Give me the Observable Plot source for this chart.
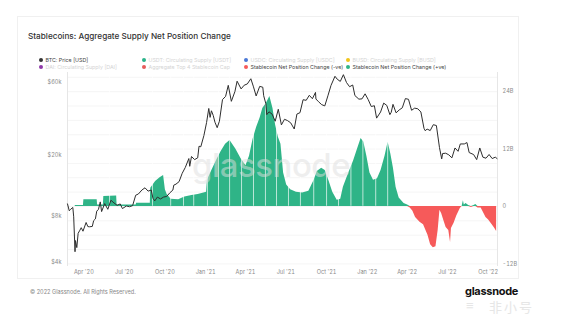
<!DOCTYPE html>
<html>
<head>
<meta charset="utf-8">
<script src="https://cdn.jsdelivr.net/npm/d3@7"></script>
<script src="https://cdn.jsdelivr.net/npm/@observablehq/plot@0.6"></script>
<style>
  html, body { margin: 0; padding: 0; background: #fff; }
  body { width: 562px; height: 323px; position: relative; overflow: hidden; font-family: Inter, "Noto Sans", sans-serif; }
  .abs { position: absolute; }
  #card { left: 17px; top: 16px; width: 502px; height: 263px; border: 1px solid #f0f0f0; box-sizing: border-box; }
  #title { left: 28px; top: 31px; font-size: 8.2px; font-weight: 500; color: #333; white-space: nowrap; }
  .leg { font-size: 5.3px; white-space: nowrap; display: flex; align-items: center; }
  .leg i { display: inline-block; width: 4px; height: 4px; border-radius: 50%; margin-right: 2.5px; }
  #foot { left: 30px; top: 289px; font-size: 5.6px; color: #888; white-space: nowrap; }
  #logo { left: 465px; top: 284px; font-size: 11px; font-weight: 700; color: #111; letter-spacing: -0.3px; }
  #wm2 { left: 489px; top: 297px; font-size: 13px; color: #e6e6e6; font-family: "Noto Sans CJK SC"; letter-spacing: 2px; }
  #wm2b { left: 466px; top: 297px; font-size: 13px; color: #e6e6e6; }
  #wm { left: 192px; top: 145px; font-size: 33px; font-weight: 500; color: rgba(222,222,222,0.5); letter-spacing: -0.5px; pointer-events: none; }
  svg.layer { position: absolute; left: 0; top: 0; }
</style>
</head>
<body>
<div id="card" class="abs"></div>
<div id="title" class="abs">Stablecoins: Aggregate Supply Net Position Change</div>
<div id="legend"></div>
<div id="charts"></div>
<div id="wm" class="abs">glassnode</div>
<div id="foot" class="abs">© 2022 Glassnode. All Rights Reserved.</div>
<div id="logo" class="abs">glassnode</div>
<div id="wm2b" class="abs">≡</div>
<div id="wm2" class="abs">非小号</div>
<script>
// ---------- DATA ----------
const priceDates = ["2020-02-24","2020-02-28","2020-03-02","2020-03-07","2020-03-09","2020-03-12","2020-03-13","2020-03-16","2020-03-19","2020-03-23","2020-03-26","2020-03-30","2020-04-06","2020-04-10","2020-04-14","2020-04-20","2020-04-23","2020-04-27","2020-04-30","2020-05-04","2020-05-08","2020-05-11","2020-05-18","2020-05-25","2020-06-01","2020-06-08","2020-06-15","2020-06-22","2020-06-27","2020-07-06","2020-07-13","2020-07-20","2020-07-27","2020-08-02","2020-08-10","2020-08-17","2020-08-24","2020-08-31","2020-09-04","2020-09-08","2020-09-14","2020-09-21","2020-09-28","2020-10-05","2020-10-12","2020-10-19","2020-10-21","2020-10-26","2020-11-02","2020-11-09","2020-11-16","2020-11-24","2020-11-26","2020-11-30","2020-12-07","2020-12-14","2020-12-17","2020-12-21","2020-12-28","2021-01-03","2021-01-08","2021-01-11","2021-01-14","2021-01-18","2021-01-22","2021-01-27","2021-02-01","2021-02-08","2021-02-15","2021-02-21","2021-02-28","2021-03-08","2021-03-13","2021-03-22","2021-03-29","2021-04-05","2021-04-13","2021-04-19","2021-04-25","2021-05-03","2021-05-10","2021-05-12","2021-05-17","2021-05-19","2021-05-24","2021-05-31","2021-06-07","2021-06-14","2021-06-21","2021-06-28","2021-07-05","2021-07-12","2021-07-20","2021-07-26","2021-08-02","2021-08-09","2021-08-16","2021-08-23","2021-08-30","2021-09-06","2021-09-07","2021-09-13","2021-09-20","2021-09-27","2021-10-04","2021-10-11","2021-10-20","2021-10-25","2021-11-01","2021-11-08","2021-11-15","2021-11-22","2021-11-29","2021-12-04","2021-12-13","2021-12-20","2021-12-27","2022-01-03","2022-01-10","2022-01-17","2022-01-22","2022-01-31","2022-02-07","2022-02-14","2022-02-21","2022-02-24","2022-02-28","2022-03-07","2022-03-14","2022-03-21","2022-03-28","2022-04-04","2022-04-11","2022-04-18","2022-04-25","2022-05-02","2022-05-09","2022-05-12","2022-05-16","2022-05-23","2022-05-30","2022-06-06","2022-06-13","2022-06-18","2022-06-20","2022-06-27","2022-07-04","2022-07-11","2022-07-18","2022-07-25","2022-07-30","2022-08-08","2022-08-14","2022-08-19","2022-08-29","2022-09-05","2022-09-12","2022-09-19","2022-09-26","2022-10-03","2022-10-10","2022-10-17","2022-10-21"];
const priceValues = [9650,8700,8900,9150,7950,4700,5560,5000,6200,6500,6750,6400,7300,6860,6840,6880,7500,7700,8650,8900,9950,8600,9700,8900,10200,9800,9450,9650,9000,9350,9250,9400,11000,11200,11900,12300,11700,11900,10500,10100,10700,10400,10700,10800,11400,11900,12800,13000,13500,15300,16700,19100,17000,19700,18800,19300,23000,22800,27000,32800,40600,35500,39200,36600,33000,30400,33500,46400,48700,57500,45200,52300,61200,54500,57600,58700,63500,56200,49000,56600,55900,49200,43500,37000,38600,37300,33500,40100,31700,34500,33800,32700,29800,37300,38100,46300,45900,49500,47000,51700,46800,44900,43000,42200,49100,57400,65900,63100,61000,67500,60000,56300,57800,49300,46700,46900,50600,46400,41800,42300,35100,38500,44000,42500,37000,38300,43200,38000,39700,41000,47100,46600,39500,40800,40400,38500,30100,29000,29800,29100,31800,31400,22500,19000,20600,20700,20200,19300,22400,21300,23800,23800,24300,20900,20300,18800,22400,19500,19200,20300,19100,19500,19100];

// Stablecoin net position change, billions USD
const netDates = ["2020-03-12","2020-03-13","2020-03-31","2020-04-01","2020-05-01","2020-05-02","2020-05-15","2020-05-16","2020-06-14","2020-06-15","2020-07-28","2020-07-29","2020-08-29","2020-08-30","2020-09-10","2020-09-20","2020-09-28","2020-10-02","2020-10-06","2020-10-15","2020-11-01","2020-11-15","2020-12-01","2020-12-15","2020-12-28","2021-01-03","2021-01-05","2021-01-15","2021-01-25","2021-02-05","2021-02-15","2021-02-25","2021-03-10","2021-03-22","2021-04-02","2021-04-10","2021-04-18","2021-04-26","2021-05-04","2021-05-10","2021-05-18","2021-05-26","2021-06-02","2021-06-08","2021-06-14","2021-06-20","2021-06-26","2021-07-03","2021-07-12","2021-07-25","2021-08-08","2021-08-22","2021-09-03","2021-09-10","2021-09-20","2021-09-28","2021-10-06","2021-10-15","2021-10-25","2021-11-02","2021-11-08","2021-11-18","2021-12-01","2021-12-10","2021-12-18","2021-12-24","2021-12-31","2022-01-07","2022-01-15","2022-01-24","2022-02-01","2022-02-10","2022-02-17","2022-02-23","2022-03-01","2022-03-07","2022-03-14","2022-03-25","2022-04-02","2022-04-08","2022-04-14","2022-04-20","2022-04-30","2022-05-08","2022-05-18","2022-05-24","2022-05-30","2022-06-05","2022-06-10","2022-06-14","2022-06-18","2022-06-23","2022-06-28","2022-07-04","2022-07-08","2022-07-10","2022-07-16","2022-07-22","2022-07-30","2022-08-03","2022-08-06","2022-08-08","2022-08-12","2022-08-18","2022-08-24","2022-08-30","2022-09-03","2022-09-08","2022-09-15","2022-09-20","2022-09-26","2022-10-02","2022-10-10","2022-10-16","2022-10-20"];
const netValues = [0,0.2,0.2,1.4,1.4,0.3,0.3,2.1,2.2,0.3,0.3,0.7,0.7,3.8,5.2,6.0,6.5,3.5,2.5,1.5,1.4,2.0,2.3,2.5,2.8,3.0,5.5,7.5,9.5,11.5,13.0,13.8,12.0,10.0,8.5,10.5,14.0,16.5,18.5,20.5,21.5,23.0,20.5,17.0,14.5,13.0,7.0,4.5,3.5,3.0,2.8,3.2,5.5,7.3,8.0,7.5,5.5,3.0,1.3,1.5,4.0,6.5,9.5,12.0,14.2,13.5,10.5,7.0,5.5,5.8,7.5,10.5,13.4,11.0,8.0,4.0,1.8,0.6,0.3,-0.3,-1.0,-2.3,-3.3,-3.8,-6.0,-8.0,-8.6,-8.4,-5.0,-0.8,-1.5,-3.0,-4.4,-5.0,-7.5,-4.6,-3.5,-2.0,-0.4,0.0,1.2,0.3,0.6,0.2,-0.2,0.2,0.4,-0.3,-0.3,-1.2,-2.3,-2.8,-3.8,-4.6,-5.2];

// thin white seams visible inside the green bars of the reference
const seamDates = ["2020-05-29","2020-09-03","2020-10-14","2020-11-12","2020-12-05","2021-01-05","2021-01-30","2021-02-24","2021-03-23","2021-04-19","2021-05-16","2021-06-10","2021-07-07","2021-08-03","2021-09-02","2021-10-01","2021-10-28","2021-11-25","2021-12-22","2022-01-20","2022-02-16"];

const xDomain = ["2020-02-24", "2022-10-22"];
const xTickDates = ["2020-04-01","2020-07-01","2020-10-01","2021-01-01","2021-04-01","2021-07-01","2021-10-01","2022-01-01","2022-04-01","2022-07-01","2022-10-01"];
const priceTicks = [4000, 8000, 20000, 60000];
const priceDomain = [3763, 69750];
const netTicks = [-12, 0, 12, 24];
const netDomain = [-12.54, 28.0];
const gridLevels = [-12,-9,-6,-3,0,3,6,9,12,15,18,21,24,27];

const legendItems = [
  {label: "BTC: Price [USD]", color: "#333333", active: true},
  {label: "USDT: Circulating Supply [USDT]", color: "#2bb38a", active: false},
  {label: "USDC: Circulating Supply [USDC]", color: "#4a78d6", active: false},
  {label: "BUSD: Circulating Supply [BUSD]", color: "#f0c419", active: false},
  {label: "DAI: Circulating Supply [DAI]", color: "#8e3aa8", active: false},
  {label: "Aggregate Top 4 Stablecoin Cap", color: "#e65b5b", active: false},
  {label: "Stablecoin Net Position Change (-ve)", color: "#f65a5a", active: true},
  {label: "Stablecoin Net Position Change (+ve)", color: "#2fb487", active: true}
];

// ---------- BUILD ----------
const parse = d3.utcParse("%Y-%m-%d");
const price = priceDates.map((d, i) => ({date: parse(d), value: priceValues[i]}));
const net = netDates.map((d, i) => ({date: parse(d), value: netValues[i]}));
const seams = seamDates.map(parse);
const xd = xDomain.map(parse);
const fmtX = d3.utcFormat("%b '%y");

const W = 562, H = 323, ML = 67, MR = 65, MT = 72, MB = 57;
const common = {
  width: W, height: H, marginLeft: ML, marginRight: MR, marginTop: MT, marginBottom: MB,
  style: {background: "transparent", fontFamily: "Inter, 'Noto Sans', sans-serif", fontSize: "5.6px", color: "#8a8a8a", overflow: "visible"}
};

const netPlot = Plot.plot({
  ...common,
  x: {type: "utc", domain: xd, ticks: xTickDates.map(parse), tickFormat: fmtX, tickSize: 0, tickPadding: 4, label: null},
  y: {domain: netDomain, axis: "right", ticks: netTicks, tickSize: 0, tickPadding: 5, label: null,
      tickFormat: d => d === 0 ? "0" : d + "B"},
  marks: [
    Plot.ruleY(gridLevels, {stroke: "#f2f2f2", strokeWidth: 0.8}),
    Plot.areaY(net, {x: "date", y: d => Math.max(0, d.value), fill: "#2fb487"}),
    Plot.areaY(net, {x: "date", y: d => Math.min(0, d.value), fill: "#f65a5a"}),
    Plot.ruleX(seams, {x: d => d, y1: 0.05, y2: netDomain[1], stroke: "#ffffff", strokeWidth: 0.8, strokeOpacity: 0.85}),
    Plot.ruleX(xd, {stroke: "#e6e6e6", strokeWidth: 1})
  ]
});

const pricePlot = Plot.plot({
  ...common,
  x: {type: "utc", domain: xd, axis: null},
  y: {type: "log", domain: priceDomain, axis: "left", ticks: priceTicks, tickSize: 0, tickPadding: 6, label: null,
      tickFormat: d => "$" + (d / 1000) + "k"},
  marks: [
    Plot.line(price, {x: "date", y: "value", stroke: "#2e2e2e", strokeWidth: 1, strokeLinejoin: "round"})
  ]
});

for (const el of [netPlot, pricePlot]) {
  el.classList.add("layer");
  document.getElementById("charts").appendChild(el);
}

// legend
const legend = document.getElementById("legend");
const colX = [39, 142, 244, 346], rowY = [57, 63.5];
legendItems.forEach((it, i) => {
  const div = document.createElement("div");
  div.className = "abs leg";
  div.style.left = colX[i % 4] + "px";
  div.style.top = rowY[Math.floor(i / 4)] + "px";
  div.style.color = it.active ? "#444" : "#d4d4d4";
  div.innerHTML = `<i style="background:${it.color}"></i>${it.label}`;
  legend.appendChild(div);
});
</script>
</body>
</html>
